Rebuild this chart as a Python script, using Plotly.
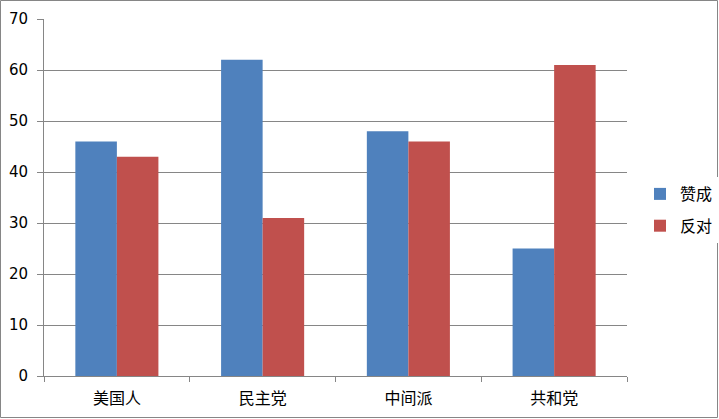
import plotly.graph_objects as go

# 数据
categories = ['美国人', '民主党', '中间派', '共和党']
support = [46, 62, 48, 25]   # 赞成
oppose = [43, 31, 46, 61]    # 反对

W, H = 719, 419
ml, mr, mt, mb = 44, 92, 19, 43

fig = go.Figure()
fig.add_trace(go.Bar(x=categories, y=support, name='赞成', marker_color='#4F81BD',
                     marker_line_width=0, legendgroup='a'))
fig.add_trace(go.Bar(x=categories, y=oppose, name='反对', marker_color='#C0504D',
                     marker_line_width=0, legendgroup='b'))

grey = '#868686'
pw = W - ml - mr
ph = H - mt - mb
# 外框
fig.add_shape(type='rect', xref='paper', yref='paper',
              x0=-(ml - 0.5) / pw, x1=1 + (mr - 1.5) / pw,
              y0=-(mb - 1.5) / ph, y1=1 + (mt - 0.5) / ph,
              line=dict(color=grey, width=1))

fig.update_layout(
    width=W, height=H,
    margin=dict(l=ml, r=mr, t=mt, b=mb, autoexpand=False),
    plot_bgcolor='white', paper_bgcolor='white',
    barmode='group', bargap=0.43, bargroupgap=0,
    font=dict(family='Verdana, DejaVu Sans, Noto Sans CJK SC', size=13, color='black'),
    showlegend=True,
    legend=dict(x=0.014, xref='paper', y=0.465, xanchor='left', yanchor='middle',
                font=dict(family='Noto Sans CJK SC', size=16),
                tracegroupgap=8, itemwidth=30),
    xaxis=dict(showline=True, linecolor=grey, ticks='outside', tickson='boundaries',
               ticklen=5, tickcolor=grey, showgrid=False, automargin=False,
               ticklabelstandoff=8,
               tickfont=dict(family='Noto Sans CJK SC', size=16)),
    yaxis=dict(range=[0, 70], dtick=10, showline=True, linecolor=grey,
               ticks='outside', ticklen=6, tickcolor=grey, automargin=False,
               showgrid=True, gridcolor=grey, gridwidth=1, zeroline=False,
               ticklabelstandoff=6,
               tickfont=dict(size=15)),
)
fig.update_layout(legend_x=1 + 13 / pw)

# 去掉页面默认的 body 边距
fig.write_html('out.html', config={'displayModeBar': False},
               post_script="document.body.style.margin='0';")
